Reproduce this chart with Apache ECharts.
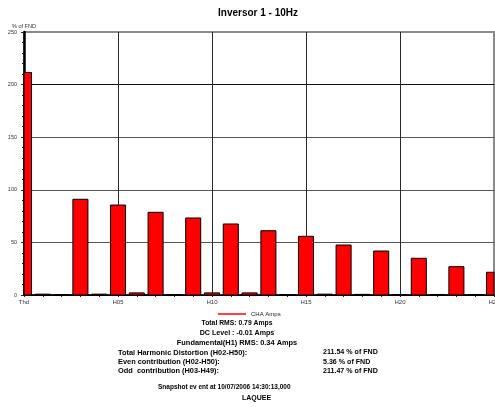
<!DOCTYPE html>
<html>
<head>
<meta charset="utf-8">
<script src="https://cdn.jsdelivr.net/npm/echarts@6/dist/echarts.min.js"></script>
<style>
  html, body { margin: 0; padding: 0; background: #fff; }
  #chart { width: 495px; height: 407px; }
</style>
</head>
<body>
<div id="chart"></div>
<script>
// Harmonic spectrum of channel A current, in % of the fundamental
const categories = ['Thd', 'H01', 'H02', 'H03', 'H04', 'H05', 'H06', 'H07', 'H08', 'H09', 'H10',
  'H11', 'H12', 'H13', 'H14', 'H15', 'H16', 'H17', 'H18', 'H19', 'H20',
  'H21', 'H22', 'H23', 'H24', 'H25'];
const chaAmps = [211.54, 0.8, 0.4, 91.0, 0.8, 85.5, 2.0, 78.6, 0.4, 73.2, 2.0,
  67.5, 2.0, 61.1, 0.4, 55.8, 0.8, 47.5, 0.6, 41.8, 0.4,
  34.9, 0.5, 26.9, 0.5, 21.6];
const yTicks = [0, 50, 100, 150, 200, 250];
const labelledCats = ['Thd', 'H05', 'H10', 'H15', 'H20', 'H25'];

const summaryCentered = [
  { text: 'Total RMS: 0.79 Amps', size: 6.8 },
  { text: 'DC Level : -0.01 Amps', size: 7.1 },
  { text: 'Fundamental(H1) RMS: 0.34 Amps', size: 7.4 }
];
const distortionNames = [
  'Total Harmonic Distortion (H02-H50):',
  'Even contribution (H02-H50):',
  'Odd  contribution (H03-H49):'
];
const distortionValues = ['211.54 % of FND', '5.36 % of FND', '211.47 % of FND'];
const footer = ['Snapshot ev ent at 10/07/2006 14:30:13,000', 'LAQUEE'];

const FONT = '"Liberation Sans", Arial, sans-serif';
const boldText = (text, size) => ({
  text, fontFamily: FONT, fontWeight: 'bold', fontSize: size, fill: '#000'
});

const graphics = [];
summaryCentered.forEach((line, i) => {
  graphics.push({ type: 'text', x: 237, y: 320 + i * 9.6,
    style: Object.assign(boldText(line.text, line.size), { align: 'center', verticalAlign: 'top' }) });
});
distortionNames.forEach((t, i) => {
  graphics.push({ type: 'text', x: 118, y: 349 + i * 9.3,
    style: Object.assign(boldText(t, 7.4), { verticalAlign: 'top' }) });
  graphics.push({ type: 'text', x: 323, y: 349 + i * 9.3,
    style: Object.assign(boldText(distortionValues[i], 7.1), { verticalAlign: 'top' }) });
});
graphics.push({ type: 'text', x: 158, y: 384,
  style: Object.assign(boldText(footer[0], 6.5), { verticalAlign: 'top' }) });
graphics.push({ type: 'text', x: 242, y: 395,
  style: Object.assign(boldText(footer[1], 7), { verticalAlign: 'top' }) });

// Bars centred on each harmonic tick, clipped to the plot area
function renderBar(params, api) {
  const idx = api.value(0);
  const val = api.value(1);
  const base = api.coord([idx, 0]);
  const top = api.coord([idx, val]);
  const w = api.size([1, 0])[0] * 0.8;
  const cs = params.coordSys;
  const shape = echarts.graphic.clipRectByRect(
    { x: base[0] - w / 2, y: top[1], width: w, height: base[1] - top[1] },
    { x: cs.x, y: cs.y, width: cs.width, height: cs.height }
  );
  return shape && {
    type: 'rect',
    shape,
    style: { fill: '#ff0000', stroke: '#000', lineWidth: 1 }
  };
}

const chart = echarts.init(document.getElementById('chart'), null, { renderer: 'canvas' });
chart.setOption({
  animation: false,
  backgroundColor: '#fff',
  textStyle: { fontFamily: FONT },
  title: {
    text: 'Inversor 1 - 10Hz',
    left: 218, top: 8, padding: 0,
    textStyle: { fontFamily: FONT, fontSize: 10, fontWeight: 'bold', color: '#000' }
  },
  legend: {
    data: ['CHA Amps'],
    left: 213, top: 306,
    icon: 'rect', itemWidth: 28, itemHeight: 1.5, itemGap: 4,
    itemStyle: { color: '#ff0000', borderWidth: 0 },
    textStyle: { fontSize: 6, color: '#222', fontFamily: FONT }
  },
  grid: {
    left: 24, right: 1, top: 32, bottom: 112,
    containLabel: false,
    outerBoundsMode: 'none',
    show: true, borderColor: '#8a8a8a', borderWidth: 2, backgroundColor: 'transparent'
  },
  xAxis: {
    type: 'category',
    data: categories,
    boundaryGap: false,
    axisLine: { lineStyle: { color: '#000', width: 1.5 } },
    axisTick: { show: true, length: 2, interval: 0, lineStyle: { color: '#222' } },
    axisLabel: {
      interval: (idx, val) => labelledCats.indexOf(val) >= 0,
      fontSize: 6, color: '#333', margin: 4, fontFamily: FONT
    },
    splitLine: {
      show: true,
      interval: (idx, val) => labelledCats.indexOf(val) > 0 && val !== 'H25',
      lineStyle: { color: '#2a2a2a', width: 1 }
    }
  },
  yAxis: {
    type: 'value',
    min: yTicks[0], max: yTicks[yTicks.length - 1], interval: 50,
    name: '% of FND',
    nameLocation: 'end', nameGap: 3,
    nameTextStyle: { fontSize: 5.5, color: '#333', fontFamily: FONT },
    axisLine: { show: true, lineStyle: { color: '#000', width: 2.5 } },
    axisTick: { show: true, length: 3, lineStyle: { color: '#222' } },
    minorTick: { show: true, splitNumber: 5, length: 2, lineStyle: { color: '#222' } },
    axisLabel: { fontSize: 5.5, color: '#333', margin: 7, fontFamily: FONT },
    splitLine: {
      show: true,
      lineStyle: { color: ['#000', '#555', '#555', '#555', '#111', '#8a8a8a'], width: 1 }
    }
  },
  series: [{
    name: 'CHA Amps',
    type: 'custom',
    renderItem: renderBar,
    itemStyle: { color: '#ff0000' },
    encode: { x: 0, y: 1 },
    data: categories.map((c, i) => [i, chaAmps[i]])
  }],
  graphic: graphics
});
</script>
</body>
</html>
